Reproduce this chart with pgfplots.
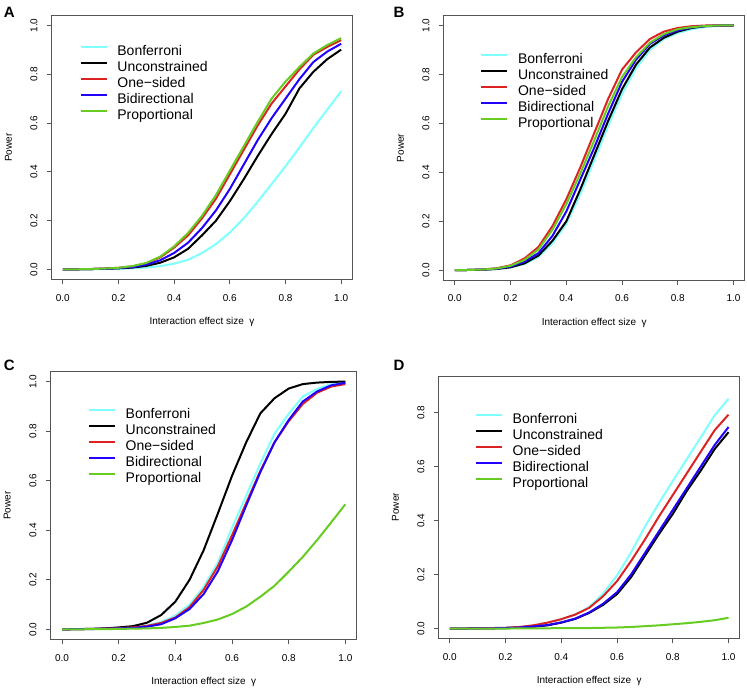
\documentclass[border=0pt]{standalone}
\usepackage{fontspec}
\setmainfont{Liberation Sans}
\usepackage{pgfplots}
\usepackage{pgfplotstable}
\pgfplotsset{compat=1.18}

\definecolor{cBon}{HTML}{80FFFF}
\definecolor{cUnc}{HTML}{000000}
\definecolor{cOne}{HTML}{DD2222}
\definecolor{cBid}{HTML}{2200FF}
\definecolor{cPro}{HTML}{66CC22}
\definecolor{axgray}{HTML}{555555}

% power curves, gamma = 0, 0.05, ..., 1
\pgfplotstableread{
x    bon   unc   one   bid   pro
0.00 0.000 0.000 0.000 0.000 0.000
0.05 0.001 0.001 0.001 0.001 0.001
0.10 0.001 0.002 0.002 0.002 0.002
0.15 0.002 0.003 0.004 0.003 0.004
0.20 0.003 0.005 0.007 0.006 0.007
0.25 0.005 0.008 0.013 0.010 0.014
0.30 0.008 0.015 0.025 0.020 0.027
0.35 0.014 0.028 0.050 0.038 0.053
0.40 0.024 0.050 0.090 0.068 0.095
0.45 0.040 0.085 0.140 0.110 0.150
0.50 0.068 0.140 0.210 0.170 0.220
0.55 0.104 0.200 0.290 0.242 0.305
0.60 0.152 0.280 0.390 0.330 0.405
0.65 0.210 0.370 0.490 0.430 0.505
0.70 0.278 0.465 0.590 0.530 0.605
0.75 0.350 0.555 0.680 0.620 0.700
0.80 0.423 0.638 0.750 0.700 0.770
0.85 0.500 0.742 0.820 0.780 0.830
0.90 0.580 0.810 0.880 0.850 0.885
0.95 0.655 0.862 0.912 0.893 0.920
1.00 0.731 0.901 0.940 0.925 0.948
}\dataA

\pgfplotstableread{
x    bon   unc   one   bid   pro
0.00 0.000 0.000 0.000 0.000 0.000
0.05 0.001 0.001 0.001 0.001 0.001
0.10 0.002 0.002 0.003 0.003 0.003
0.15 0.005 0.005 0.008 0.006 0.007
0.20 0.011 0.012 0.020 0.015 0.018
0.25 0.025 0.028 0.048 0.035 0.042
0.30 0.055 0.060 0.095 0.070 0.085
0.35 0.110 0.120 0.180 0.140 0.165
0.40 0.190 0.200 0.290 0.240 0.270
0.45 0.310 0.330 0.420 0.370 0.395
0.50 0.450 0.470 0.560 0.500 0.530
0.55 0.590 0.610 0.700 0.640 0.670
0.60 0.720 0.740 0.820 0.770 0.790
0.65 0.825 0.840 0.890 0.860 0.870
0.70 0.900 0.910 0.945 0.925 0.930
0.75 0.945 0.950 0.975 0.960 0.965
0.80 0.970 0.975 0.990 0.980 0.985
0.85 0.985 0.990 0.997 0.992 0.993
0.90 0.995 0.997 1.000 0.998 0.998
0.95 0.999 0.999 1.000 1.000 1.000
1.00 1.000 1.000 1.000 1.000 1.000
}\dataB

\pgfplotstableread{
x    bon   unc   one   bid   pro
0.00 0.000 0.000 0.000 0.000 0.000
0.05 0.001 0.001 0.001 0.001 0.000
0.10 0.002 0.002 0.002 0.001 0.001
0.15 0.003 0.004 0.003 0.003 0.001
0.20 0.005 0.008 0.005 0.004 0.002
0.25 0.009 0.013 0.008 0.006 0.003
0.30 0.016 0.027 0.014 0.011 0.004
0.35 0.030 0.058 0.026 0.021 0.006
0.40 0.056 0.112 0.048 0.045 0.010
0.45 0.100 0.200 0.090 0.082 0.015
0.50 0.172 0.320 0.160 0.143 0.026
0.55 0.270 0.468 0.255 0.235 0.040
0.60 0.410 0.620 0.380 0.360 0.062
0.65 0.540 0.755 0.510 0.500 0.092
0.70 0.670 0.872 0.640 0.635 0.132
0.75 0.790 0.933 0.755 0.755 0.176
0.80 0.870 0.972 0.840 0.845 0.233
0.85 0.940 0.990 0.910 0.920 0.293
0.90 0.970 0.996 0.955 0.960 0.360
0.95 0.990 0.999 0.980 0.985 0.432
1.00 0.997 1.000 0.990 0.995 0.505
}\dataC

\pgfplotstableread{
x    bon   unc   one   bid   pro
0.00 0.000 0.000 0.000 0.000 0.000
0.05 0.000 0.000 0.000 0.000 0.000
0.10 0.001 0.001 0.001 0.001 0.000
0.15 0.002 0.001 0.002 0.001 0.000
0.20 0.003 0.002 0.003 0.002 0.000
0.25 0.006 0.004 0.006 0.004 0.001
0.30 0.012 0.007 0.012 0.008 0.001
0.35 0.022 0.012 0.022 0.013 0.001
0.40 0.035 0.022 0.035 0.023 0.002
0.45 0.052 0.036 0.052 0.037 0.002
0.50 0.080 0.058 0.077 0.060 0.002
0.55 0.130 0.088 0.120 0.092 0.003
0.60 0.197 0.128 0.176 0.135 0.004
0.65 0.282 0.190 0.250 0.200 0.006
0.70 0.378 0.270 0.330 0.280 0.009
0.75 0.465 0.350 0.415 0.360 0.012
0.80 0.547 0.425 0.495 0.440 0.016
0.85 0.628 0.510 0.575 0.520 0.020
0.90 0.708 0.585 0.655 0.600 0.025
0.95 0.790 0.665 0.735 0.680 0.031
1.00 0.852 0.728 0.793 0.747 0.040
}\dataD

\pgfplotsset{
  panel/.style={
    anchor=south west, scale only axis,
    xmin=-0.04, xmax=1.04, ymin=-0.04, ymax=1.04,
    xtick={0,0.2,0.4,0.6,0.8,1.0},
    ytick={0,0.2,0.4,0.6,0.8,1.0},
    tick pos=left, tick align=outside, major tick length=5pt,
    axis line style={draw=axgray, line width=0.9pt},
    tick style={draw=axgray, line width=0.9pt},
    /pgf/number format/assume math mode=true,
    /pgf/number format/.cd, fixed, fixed zerofill, precision=1, /pgfplots/.cd,
    ticklabel style={font=\fontsize{10}{12}\selectfont},
    xticklabel style={anchor=north, yshift=-6.2pt},
    yticklabel style={xshift=-5.7pt, rotate=90, anchor=south},
    xlabel={Interaction effect size\ \ γ},
    ylabel={Power},
    label style={font=\fontsize{10}{12}\selectfont},
    xlabel style={at={(axis description cs:0.5,0)}, anchor=center, yshift=-42.5pt},
    ylabel style={at={(axis description cs:-0.144,0.5)}, anchor=center},
    legend cell align=left,
    legend style={draw=none, fill=none, anchor=north west,
      font=\fontsize{14}{16}\selectfont,
      row sep=3pt, column sep=9.7pt,
      nodes={inner sep=0pt, text height=10pt, text depth=3pt}},
    legend image code/.code={\draw[##1, line width=2pt] (0pt,5pt) -- (26pt,5pt);},
  },
  pw/.style={color=#1, line width=2pt, mark=none},
}

\newcommand{\curves}[1]{%
  \addplot[pw=cBon] table[x=x, y=bon] {#1};
  \addplot[pw=cUnc] table[x=x, y=unc] {#1};
  \addplot[pw=cOne] table[x=x, y=one] {#1};
  \addplot[pw=cBid] table[x=x, y=bid] {#1};
  \addplot[pw=cPro] table[x=x, y=pro] {#1};
  \legend{Bonferroni, Unconstrained, One−sided, Bidirectional, Proportional}
}

\begin{document}
\begin{tikzpicture}
\path[use as bounding box] (0pt,0pt) rectangle (747pt,-690pt);

\begin{axis}[panel, at={(51.7pt,-279.3pt)}, width=300.6pt, height=263.6pt,
  legend style={at={(0.0825,0.8953)}}]
\curves{\dataA}
\end{axis}

\begin{axis}[panel, at={(443.7pt,-280pt)}, width=301pt, height=264.3pt,
  legend style={at={(0.1113,0.8638)}}]
\curves{\dataB}
\end{axis}

\begin{axis}[panel, at={(50.7pt,-639.3pt)}, width=306pt, height=267.6pt,
  ylabel style={at={(axis description cs:-0.142,0.5)}},
  legend style={at={(0.1115,0.8692)}}]
\curves{\dataC}
\end{axis}

\begin{axis}[panel, at={(438.7pt,-638.3pt)}, width=301pt, height=262.3pt,
  ymin=-0.036, ymax=0.936, ytick={0,0.2,0.4,0.6,0.8},
  legend style={at={(0.1100,0.8666)}}]
\curves{\dataD}
\end{axis}

\begin{scope}[every node/.style={font=\bfseries\fontsize{15}{15}\selectfont, inner sep=0pt}]
\node at (9.3pt,-12.3pt) {A};
\node at (399pt,-12.3pt) {B};
\node at (9.3pt,-365.7pt) {C};
\node at (399pt,-365pt) {D};
\end{scope}
\end{tikzpicture}
\end{document}
